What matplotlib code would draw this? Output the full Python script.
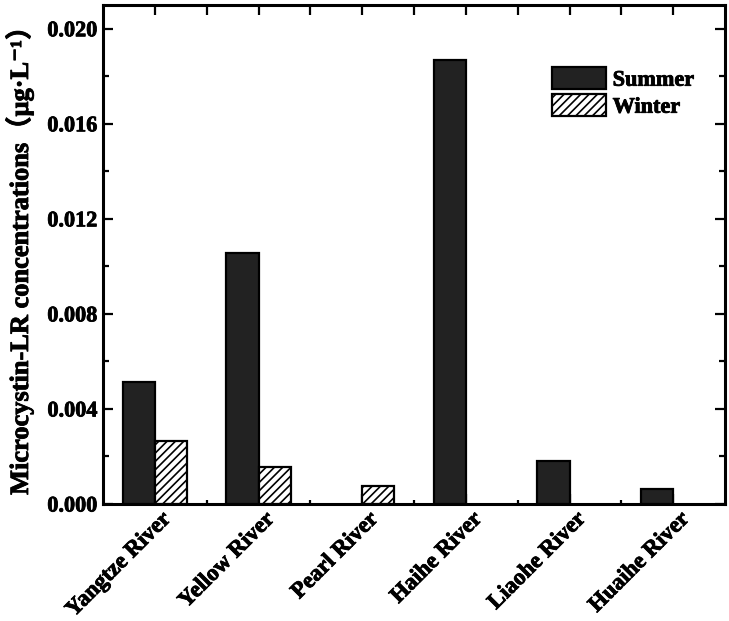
import matplotlib
matplotlib.use('Agg')
import matplotlib.pyplot as plt
import matplotlib.transforms as mtransforms
import matplotlib.patheffects as pe
from matplotlib.ticker import FixedLocator, MultipleLocator, FormatStrFormatter
import numpy as np

rivers = ['Yangtze River', 'Yellow River', 'Pearl River', 'Haihe River', 'Liaohe River', 'Huaihe River']
summer = [0.00513, 0.01056, 0.0, 0.01867, 0.00183, 0.00062]
winter = [0.00266, 0.00157, 0.00076, 0.0, 0.0, 0.0]
series_labels = ['Summer', 'Winter']
y_ticks = [0.000, 0.004, 0.008, 0.012, 0.016, 0.020]
ylabel = 'Microcystin-LR concentrations（μg·L⁻¹）'

plt.rcParams['font.family'] = ['Liberation Serif', 'DejaVu Serif', 'Noto Sans CJK SC']
plt.rcParams['font.weight'] = 'bold'
plt.rcParams['hatch.linewidth'] = 1.2
plt.rcParams['hatch.color'] = 'black'

heavy = [pe.withStroke(linewidth=0.6, foreground='black')]

W, H = 729, 621
fig = plt.figure(figsize=(W / 100, H / 100), dpi=100)
L, R, T, B = 103, 725, 5, 504
ax = fig.add_axes([L / W, 1 - B / H, (R - L) / W, (B - T) / H])

x = np.arange(len(rivers))
w = 0.31
si = [i for i, v in enumerate(summer) if v > 0]
wi = [i for i, v in enumerate(winter) if v > 0]
b1 = ax.bar(x[si] - w / 2, [summer[i] for i in si], width=w, color='#222222',
            edgecolor='black', linewidth=1.6, label=series_labels[0], zorder=2)
b2 = ax.bar(x[wi] + w / 2, [winter[i] for i in wi], width=w, color='white',
            edgecolor='black', linewidth=1.6, hatch='////', label=series_labels[1], zorder=2)

ax.set_xlim(-0.5, len(rivers) - 0.5)
ax.set_ylim(0, 0.021)
ax.set_yticks(y_ticks)
ax.yaxis.set_major_formatter(FormatStrFormatter('%.3f'))
ax.yaxis.set_minor_locator(MultipleLocator(0.002))
ax.set_xticks(x)
ax.set_xticklabels(rivers, rotation=45, ha='right', va='top', fontsize=16.5, fontweight='bold')
ax.xaxis.set_minor_locator(FixedLocator(x[:-1] + 0.5))

for s in ax.spines.values():
    s.set_linewidth(2.2)

ax.tick_params(which='both', direction='in', top=True, right=True, width=1.6)
ax.tick_params(which='major', length=7)
ax.tick_params(which='minor', length=4)
ax.tick_params(axis='x', which='minor', length=7)
ax.tick_params(axis='y', labelsize=16, pad=4)
ax.tick_params(axis='x', pad=2)
for t in ax.xaxis.get_minor_ticks():
    t.tick1line.set_markersize(3)

offset = mtransforms.ScaledTranslation(20 / 100, -2 / 100, fig.dpi_scale_trans)
for lab in ax.get_xticklabels():
    lab.set_transform(lab.get_transform() + offset)
    lab.set_path_effects(heavy)
for lab in ax.get_yticklabels():
    lab.set_path_effects(heavy)

ax.set_ylabel(ylabel, fontsize=19, fontweight='bold', path_effects=heavy)
ax.yaxis.set_label_coords((33 - L) / (R - L), 0.5)

leg = ax.legend(loc='upper left', bbox_to_anchor=((552 - L) / (R - L), (B - 67) / (B - T)),
                frameon=False, fontsize=16, borderpad=0, borderaxespad=0,
                handlelength=2.43, handleheight=1.17, handletextpad=0.3, labelspacing=0.15)
for t in leg.get_texts():
    t.set_fontweight('bold')
    t.set_path_effects(heavy)

fig.savefig('out.png', dpi=100)
